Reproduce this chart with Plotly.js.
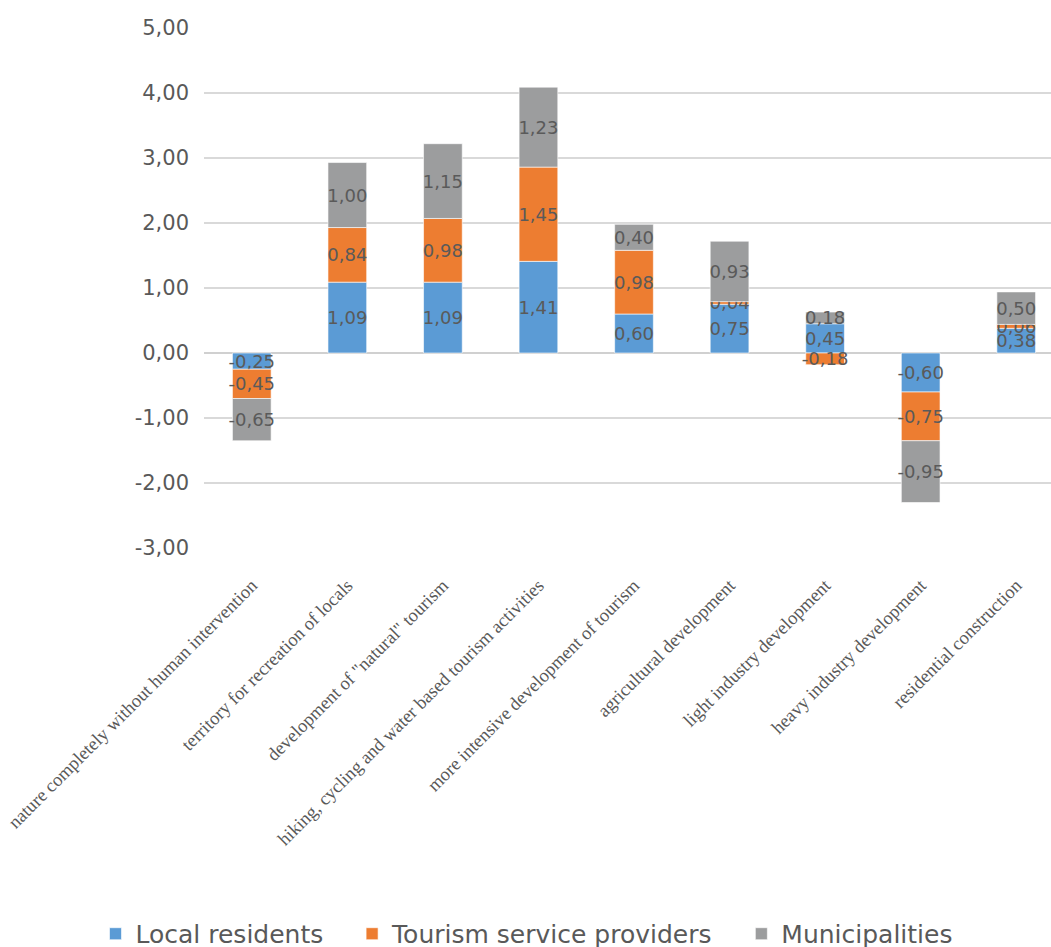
<!DOCTYPE html>
<html>
<head>
<meta charset="utf-8">
<script src="https://cdn.plot.ly/plotly-3.0.1.min.js"></script>
<style>
html, body { margin: 0; padding: 0; overflow: hidden; background: #fff; }
#chart { width: 1066px; height: 962px; }
</style>
</head>
<body>
<div id="chart"></div>
<script>
const categories = [
  "nature completely without human intervention",
  "territory for recreation of locals",
  "development of \"natural\" tourism",
  "hiking, cycling and water based tourism activities",
  "more intensive development of tourism",
  "agricultural development",
  "light industry development",
  "heavy industry development",
  "residential construction"
];
const localResidents = [-0.25, 1.09, 1.09, 1.41, 0.60, 0.75, 0.45, -0.60, 0.38];
const tourismProviders = [-0.45, 0.84, 0.98, 1.45, 0.98, 0.04, -0.18, -0.75, 0.06];
const municipalities = [-0.65, 1.00, 1.15, 1.23, 0.40, 0.93, 0.18, -0.95, 0.50];
const seriesNames = ["Local residents", "Tourism service providers", "Municipalities"];
const seriesColors = ["#5b9bd5", "#ed7d31", "#9c9d9e"];
const yTickVals = [-3, -2, -1, 0, 1, 2, 3, 4, 5];

function fmt(v) { return v.toFixed(2).replace('.', ','); }

const seriesData = [localResidents, tourismProviders, municipalities];
const traces = seriesData.map((vals, i) => ({
  type: 'bar',
  name: seriesNames[i] + (i < 2 ? '\u00a0\u00a0\u00a0' : ''),
  x: categories,
  y: vals,
  text: vals.map(fmt),
  textposition: 'inside',
  insidetextanchor: 'middle',
  textangle: 0,
  constraintext: 'none',
  cliponaxis: false,
  textfont: { family: 'DejaVu Sans, sans-serif', size: 18, color: '#5a5a5a' },
  marker: { color: seriesColors[i], line: { color: 'rgba(255,255,255,0.6)', width: 1 } },
  hoverinfo: 'x+y+name'
}));

const layout = {
  width: 1066,
  height: 962,
  barmode: 'relative',
  bargap: 0.595,
  margin: { l: 204, r: 2, t: 28, b: 414 },
  paper_bgcolor: '#ffffff',
  plot_bgcolor: '#ffffff',
  showlegend: true,
  legend: {
    orientation: 'h',
    x: 0.375, xanchor: 'center',
    y: -0.698, yanchor: 'top',
    font: { family: 'DejaVu Sans, sans-serif', size: 25, color: '#595959' },
    itemwidth: 30,
    traceorder: 'normal',
    itemclick: false
  },
  xaxis: {
    type: 'category',
    tickangle: -45,
    tickfont: { family: 'Liberation Serif, Times New Roman, serif', size: 18.5, color: '#595959' },
    showgrid: false,
    showline: false,
    ticks: '',
    ticklabelstandoff: 22,
    automargin: false,
    fixedrange: true
  },
  yaxis: {
    range: [-3, 5],
    tickvals: yTickVals,
    ticktext: yTickVals.map(fmt),
    tickfont: { family: 'DejaVu Sans, sans-serif', size: 21, color: '#595959' },
    gridcolor: '#d9d9d9',
    gridwidth: 2,
    zeroline: true,
    zerolinecolor: '#d0d0d0',
    zerolinewidth: 2.5,
    showline: false,
    ticks: '',
    ticklabelstandoff: 14,
    automargin: false,
    fixedrange: true
  },
  font: { family: 'DejaVu Sans, sans-serif', color: '#595959' }
};

Plotly.newPlot('chart', traces, layout, { displayModeBar: false, staticPlot: true });
</script>
</body>
</html>
